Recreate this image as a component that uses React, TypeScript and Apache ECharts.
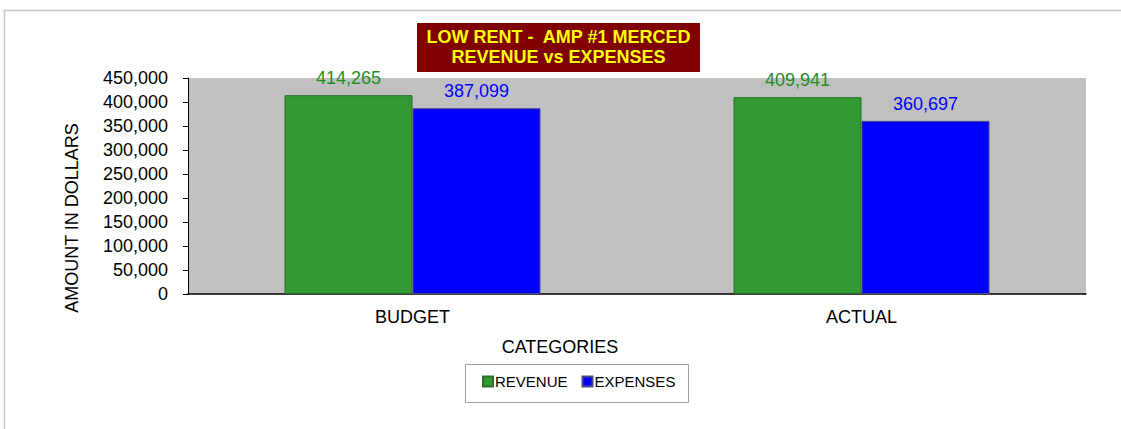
import React, { useEffect, useRef } from "react";
import * as echarts from "echarts";

const categories = ["BUDGET", "ACTUAL"];
const revenue = [414265, 409941];
const expenses = [387099, 360697];
const yTicks = { min: 0, max: 450000, interval: 50000 };
const titleLines = ["LOW RENT -  AMP #1 MERCED", "REVENUE vs EXPENSES"];

const fmt = (v: number) => v.toLocaleString("en-US");
const FONT = "'Liberation Sans', Arial, sans-serif";

export default function App() {
  const ref = useRef<HTMLDivElement>(null);
  useEffect(() => {
    const chart = echarts.init(ref.current!, null, { renderer: "svg" });
    chart.setOption({
      animation: false,
      backgroundColor: "#ffffff",
      textStyle: { fontFamily: FONT },
      grid: {
        left: 188,
        top: 78,
        right: 35,
        bottom: 135,
        show: true,
        backgroundColor: "#C0C0C0",
        borderWidth: 0,
      },
      legend: {
        left: 477,
        top: 369,
        itemWidth: 10,
        itemHeight: 10,
        itemGap: 14,
        icon: "rect",
        textStyle: { fontSize: 15, color: "#000", fontFamily: FONT, padding: [0, 0, 0, -3] },
        data: ["REVENUE", "EXPENSES"],
      },
      xAxis: {
        type: "category",
        data: categories,
        axisLine: { lineStyle: { color: "#000", width: 1.5 } },
        axisTick: { inside: true, length: 5, lineStyle: { color: "#808080" } },
        axisLabel: { color: "#000", fontSize: 18, fontFamily: FONT, margin: 14 },
      },
      yAxis: {
        type: "value",
        min: yTicks.min,
        max: yTicks.max,
        interval: yTicks.interval,
        splitLine: { show: false },
        axisLine: { show: true, lineStyle: { color: "#000", width: 1 } },
        axisTick: { show: true, length: 5, lineStyle: { color: "#000" } },
        axisLabel: { color: "#000", fontSize: 18, fontFamily: FONT, margin: 20, formatter: (v: number) => fmt(v) },
      },
      series: [
        {
          name: "REVENUE",
          type: "bar",
          data: revenue,
          barWidth: 128,
          barGap: "0%",
          itemStyle: { color: "#339933", borderColor: "#2A6E2A", borderWidth: 1 },
          label: {
            show: true,
            position: "top",
            distance: 8,
            color: "#1F8F1F",
            fontSize: 18,
            fontFamily: FONT,
            formatter: (p: any) => fmt(p.value),
          },
        },
        {
          name: "EXPENSES",
          type: "bar",
          data: expenses,
          barWidth: 128,
          itemStyle: { color: "#0000FF", borderColor: "#4A4A8A", borderWidth: 1 },
          label: {
            show: true,
            position: "top",
            distance: 8,
            color: "#0000FF",
            fontSize: 18,
            fontFamily: FONT,
            formatter: (p: any) => fmt(p.value),
          },
        },
      ],
      graphic: [
        {
          type: "rect",
          shape: { x: 4.5, y: 10.5, width: 1200, height: 500 },
          style: { fill: "none", stroke: "#C8C8C8", lineWidth: 1.5 },
          silent: true,
          z: -10,
        },
        {
          type: "rect",
          shape: { x: 417, y: 23, width: 283, height: 49 },
          style: { fill: "#800000" },
        },
        {
          type: "text",
          x: 558.5,
          y: 36.5,
          style: {
            text: titleLines[0],
            fill: "#FFFF00",
            font: `bold 18px ${FONT}`,
            textAlign: "center",
            textVerticalAlign: "middle",
          },
        },
        {
          type: "text",
          x: 558.5,
          y: 56.5,
          style: {
            text: titleLines[1],
            fill: "#FFFF00",
            font: `bold 18px ${FONT}`,
            textAlign: "center",
            textVerticalAlign: "middle",
          },
        },
        {
          type: "text",
          x: 72,
          y: 218,
          rotation: Math.PI / 2,
          style: {
            text: "AMOUNT IN DOLLARS",
            fill: "#000",
            font: `18px ${FONT}`,
            textAlign: "center",
            textVerticalAlign: "middle",
          },
        },
        {
          type: "text",
          x: 560,
          y: 346.5,
          style: {
            text: "CATEGORIES",
            fill: "#000",
            font: `18px ${FONT}`,
            textAlign: "center",
            textVerticalAlign: "middle",
          },
        },
        {
          type: "rect",
          shape: { x: 465.5, y: 364.5, width: 223, height: 38 },
          style: { fill: "none", stroke: "#A0A0A0", lineWidth: 1 },
          z: -1,
        },
      ],
    });
    return () => chart.dispose();
  }, []);
  return (
    <div
      ref={ref}
      style={{ position: "fixed", left: 0, top: 0, width: 1121, height: 429 }}
    />
  );
}
